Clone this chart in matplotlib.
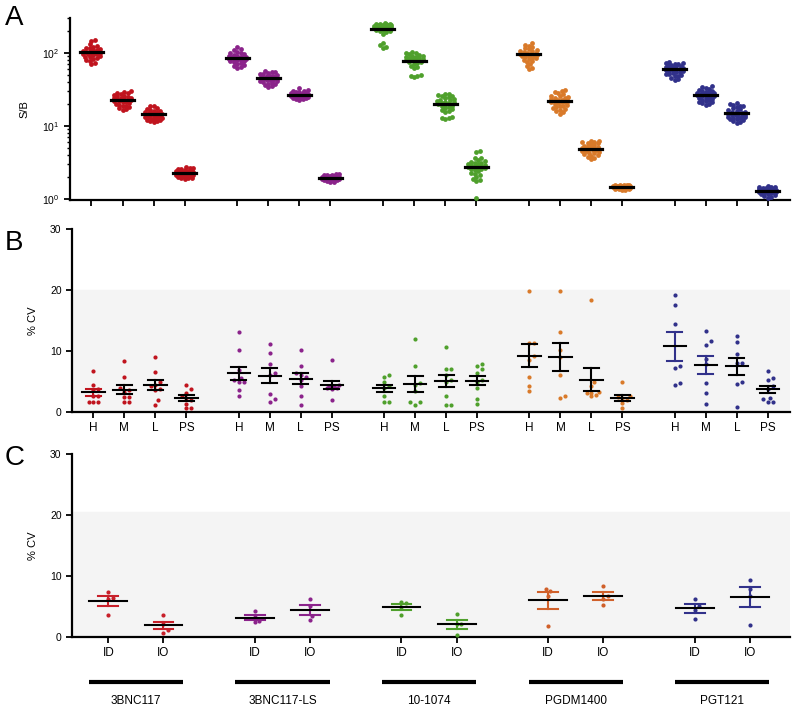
"""
S/B and %CV plots for five antibodies (panels A, B, C)
"""

import numpy as np
import matplotlib
matplotlib.use("Agg")
import matplotlib.pyplot as plt
import matplotlib.transforms as mtransforms
from matplotlib.ticker import LogLocator, LogFormatterMathtext, NullFormatter

plt.rcParams['font.family'] = ['Liberation Sans', 'DejaVu Sans']

antibodies = ["3BNC117", "3BNC117-LS", "10-1074", "PGDM1400", "PGT121"]
levels = ["H", "M", "L", "PS"]
routes = ["ID", "IO"]
colors = ["#C0141E", "#8B238B", "#4FA02C", "#D97A2A", "#31318A"]
colors_c = ["#C8202A", "#8B238B", "#4FA02C", "#D0602A", "#31318A"]

# ---- panel A: S/B values, one list per level (H, M, L, PS)
sb_3bnc117 = [
    [150, 145, 132, 126, 121, 118, 115, 112, 110, 108, 106, 105, 103, 102, 101, 100, 99, 97, 96, 95, 93, 91, 89, 87, 85, 82, 80, 77, 73, 70],
    [30, 29, 28.5, 28, 27, 26.5, 26, 25.5, 25, 24.5, 24, 23.8, 23.5, 23.2, 23, 22.8, 22.5, 22.2, 22, 21.5, 21, 20.5, 20, 19.5, 19, 18.5, 18, 17.5, 17, 16.5],
    [19, 18.5, 17.5, 17, 16.5, 16.2, 16, 15.7, 15.4, 15.2, 15, 14.8, 14.6, 14.5, 14.3, 14.1, 14, 13.8, 13.6, 13.4, 13.2, 13, 12.8, 12.6, 12.4, 12.2, 12, 11.8, 11.6, 11.4],
    [2.75, 2.7, 2.65, 2.6, 2.55, 2.5, 2.45, 2.42, 2.4, 2.38, 2.35, 2.32, 2.3, 2.28, 2.26, 2.25, 2.23, 2.2, 2.18, 2.15, 2.12, 2.1, 2.08, 2.05, 2.02, 2.0, 1.97, 1.94, 1.92, 1.9],
]
sb_3bnc117ls = [
    [120, 112, 108, 104, 100, 98, 96, 94, 92, 90, 89, 88, 87, 86, 85, 84, 83, 82, 81, 80, 79, 78, 77, 75, 73, 71, 69, 67, 65, 63],
    [56, 55, 54, 53, 52, 51, 50, 49, 48, 47.5, 47, 46.5, 46, 45.5, 45, 44.5, 44, 43.5, 43, 42.5, 42, 41.5, 41, 40, 39, 38, 37, 36, 35, 34],
    [33, 31.5, 30.5, 30, 29.5, 29, 28.5, 28.2, 28, 27.7, 27.5, 27.2, 27, 26.8, 26.6, 26.4, 26.2, 26, 25.8, 25.6, 25.4, 25.2, 25, 24.7, 24.4, 24.1, 23.8, 23.5, 23.2, 23],
    [2.2, 2.17, 2.14, 2.12, 2.1, 2.08, 2.06, 2.04, 2.02, 2.01, 2.0, 1.99, 1.98, 1.97, 1.96, 1.95, 1.94, 1.93, 1.92, 1.91, 1.9, 1.89, 1.88, 1.86, 1.84, 1.82, 1.8, 1.77, 1.73, 1.7],
]
sb_101074 = [
    [255, 252, 250, 248, 246, 244, 242, 240, 238, 235, 232, 230, 228, 225, 222, 220, 218, 215, 212, 210, 207, 204, 200, 196, 190, 182, 135, 128, 120, 117],
    [103, 100, 98, 96, 94, 92, 90, 88, 87, 86, 85, 84, 83, 82, 81, 80, 79, 78, 76, 74, 72, 70, 67, 64, 62, 50, 49, 48, 47],
    [27.5, 27, 26.5, 26, 25.5, 25, 24, 23.5, 23, 22.5, 22, 21.5, 21, 20.8, 20.5, 20, 19.5, 19, 18.5, 18, 17.5, 17, 16.5, 16, 15.5, 13.2, 13, 12.8, 12.6],
    [4.5, 4.4, 3.7, 3.6, 3.4, 3.3, 3.2, 3.15, 3.1, 3.05, 3.0, 2.95, 2.9, 2.85, 2.8, 2.75, 2.7, 2.65, 2.6, 2.55, 2.5, 2.4, 2.3, 2.2, 2.1, 2.0, 1.9, 1.8, 1.75, 1.03],
]
sb_pgdm1400 = [
    [135, 130, 125, 120, 116, 112, 110, 107, 105, 103, 101, 99, 97, 96, 95, 94, 93, 92, 90, 88, 86, 84, 82, 80, 77, 74, 70, 66, 62, 60],
    [31, 30, 29, 28, 27, 26, 25.5, 25, 24.5, 24, 23.5, 23, 22.5, 22, 21.8, 21.5, 21.2, 21, 20.5, 20, 19.5, 19, 18.5, 18, 17.5, 17, 16.5, 16, 15.3, 14.6],
    [6.3, 6.2, 6.1, 6.0, 5.9, 5.8, 5.6, 5.5, 5.4, 5.3, 5.2, 5.1, 5.0, 4.95, 4.9, 4.85, 4.8, 4.75, 4.7, 4.6, 4.5, 4.4, 4.3, 4.2, 4.1, 4.0, 3.9, 3.8, 3.7, 3.5],
    [1.58, 1.57, 1.56, 1.55, 1.54, 1.53, 1.52, 1.51, 1.5, 1.5, 1.49, 1.48, 1.48, 1.47, 1.47, 1.46, 1.46, 1.45, 1.45, 1.44, 1.43, 1.42, 1.41, 1.4, 1.39, 1.38, 1.37, 1.36, 1.34, 1.32],
]
sb_pgt121 = [
    [75, 73, 72, 71, 70, 69, 68, 67, 66, 65, 64, 63, 62, 61, 60, 59, 58, 57, 56, 55, 54, 53, 52, 51, 50, 49, 48, 46, 44, 43],
    [35, 34, 33, 32, 31, 30.5, 30, 29.5, 29, 28.5, 28, 27.5, 27, 26.8, 26.5, 26.2, 26, 25.5, 25, 24.5, 24, 23.5, 23, 22.5, 22, 21.5, 21, 20.5, 20, 19.4],
    [20.5, 20, 19.5, 19, 18.5, 18, 17.5, 17, 16.5, 16, 15.7, 15.4, 15.1, 14.8, 14.6, 14.4, 14.2, 14, 13.8, 13.6, 13.4, 13.2, 13, 12.8, 12.6, 12.4, 12.1, 11.8, 11.4, 11],
    [1.5, 1.48, 1.46, 1.44, 1.42, 1.4, 1.38, 1.37, 1.36, 1.35, 1.34, 1.33, 1.32, 1.31, 1.3, 1.29, 1.28, 1.27, 1.26, 1.25, 1.24, 1.23, 1.22, 1.2, 1.18, 1.16, 1.13, 1.1, 1.07, 1.04],
]
sb_all = [sb_3bnc117, sb_3bnc117ls, sb_101074, sb_pgdm1400, sb_pgt121]

# ---- panel B: %CV per level (H, M, L, PS)
cv_3bnc117 = [
    [6.8, 4.5, 3.8, 3.6, 2.7, 2.6, 1.6, 1.6, 1.7],
    [8.3, 5.7, 3.9, 3.6, 3.3, 2.5, 2.5, 1.7, 1.7],
    [9.0, 6.6, 5.0, 4.5, 4.2, 3.8, 3.6, 1.9, 1.2],
    [4.5, 3.8, 3.2, 2.6, 2.3, 2.0, 1.4, 0.6, 0.6],
]
cv_3bnc117ls = [
    [13.1, 10.1, 6.9, 5.6, 5.3, 5.0, 4.9, 3.6, 2.7],
    [11.2, 9.6, 7.9, 6.4, 6.0, 3.0, 2.1, 1.6],
    [10.1, 7.5, 6.4, 6.1, 5.8, 5.3, 4.3, 2.7, 1.1],
    [8.5, 4.5, 4.3, 4.2, 3.9, 3.9, 3.8, 1.9],
]
cv_101074 = [
    [6.1, 5.8, 5.0, 4.2, 3.9, 2.7, 1.7, 1.7],
    [12.0, 7.5, 4.8, 4.5, 3.4, 1.7, 1.6, 1.2],
    [10.7, 7.0, 7.0, 6.0, 5.3, 5.0, 2.7, 1.2, 1.2],
    [7.8, 7.5, 7.0, 6.4, 5.3, 4.9, 3.9, 2.1, 1.3],
]
cv_pgdm1400 = [
    [19.9, 11.3, 11.3, 9.2, 8.6, 5.7, 4.3, 3.5],
    [19.8, 13.1, 10.2, 9.0, 6.1, 2.7, 2.3],
    [18.3, 4.9, 4.2, 3.3, 3.1, 3.1, 2.8, 2.6],
    [5.0, 2.6, 2.5, 2.3, 2.0, 1.5, 0.7],
]
cv_pgt121 = [
    [19.1, 17.6, 14.5, 7.5, 7.3, 4.8, 4.5],
    [13.3, 11.6, 11.0, 8.7, 7.9, 4.8, 3.1, 1.3],
    [12.5, 11.5, 9.5, 8.0, 8.0, 5.0, 4.6, 0.8],
    [6.7, 5.6, 5.3, 4.2, 3.7, 2.3, 2.1, 1.7, 1.7],
]
cv_all = [cv_3bnc117, cv_3bnc117ls, cv_101074, cv_pgdm1400, cv_pgt121]

# ---- panel C: %CV per route (ID, IO)
route_3bnc117 = [[7.3, 6.4, 6.3, 3.6], [3.6, 2.1, 1.2, 0.7]]
route_3bnc117ls = [[4.2, 3.3, 2.6, 2.4], [6.3, 5.0, 3.5, 2.8]]
route_101074 = [[5.7, 5.5, 4.9, 3.6], [3.8, 2.2, 2.1, 0.3]]
route_pgdm1400 = [[7.9, 7.5, 6.8, 1.8], [8.4, 6.8, 6.3, 5.3]]
route_pgt121 = [[6.3, 5.0, 4.4, 3.0], [9.4, 7.9, 6.8, 1.9]]
route_all = [route_3bnc117, route_3bnc117ls, route_101074, route_pgdm1400, route_pgt121]

GROUP_STEP = 4.69
XLIM = (-0.69, 3 + 4 * GROUP_STEP + 0.71)


def swarm_x(ax, xc, vals, d, max_off):
    """x positions (data units) that spread points sideways, at most max_off px"""
    pts = ax.transData.transform(np.column_stack([np.full(len(vals), xc), vals]))
    ypx = pts[:, 1]
    offs = np.zeros(len(vals))
    placed = []
    cands = [0.0]
    j = 1
    while j * d * 0.5 <= max_off:
        cands += [j * d * 0.5, -j * d * 0.5]
        j += 1
    for k in np.argsort(ypx):
        y = ypx[k]
        best, best_dist = 0.0, -1
        for c in cands:
            dist = min([np.hypot(c - px, y - py) for px, py in placed] or [1e9])
            if dist >= d:
                best = c
                break
            if dist > best_dist:
                best, best_dist = c, dist
        placed.append((best, y))
        offs[k] = best
    inv = ax.transData.inverted()
    return inv.transform(np.column_stack([pts[:, 0] + offs, ypx]))[:, 0]


def style_axes(ax):
    for s in ["top", "right"]:
        ax.spines[s].set_visible(False)
    for s in ["left", "bottom"]:
        ax.spines[s].set_linewidth(1.6)
    ax.tick_params(axis="both", which="major", length=4, width=1.3, labelsize=7.5)
    ax.tick_params(axis="both", which="minor", length=2.2, width=1.0)
    ax.set_xlim(*XLIM)


def mean_sem(ax, x, vals, half_mean, half_cap, ecolor):
    v = np.asarray(vals, dtype=float)
    m = v.mean()
    se = v.std(ddof=1) / np.sqrt(len(v))
    ax.plot([x, x], [m - se, m + se], color=ecolor, lw=1.5, zorder=4)
    ax.plot([x - half_cap, x + half_cap], [m - se, m - se], color=ecolor, lw=1.5, zorder=4)
    ax.plot([x - half_cap, x + half_cap], [m + se, m + se], color=ecolor, lw=1.5, zorder=4)
    ax.plot([x - half_mean, x + half_mean], [m, m], color="black", lw=1.5, zorder=5)


fig = plt.figure(figsize=(7.93, 7.08), dpi=100)

# ---------------- panel A
axA = fig.add_axes([0.0883, 0.7175, 0.9077, 0.2571])
axA.set_yscale("log")
axA.set_ylim(0.97, 300)
style_axes(axA)
axA.yaxis.set_major_locator(LogLocator(base=10))
axA.yaxis.set_major_formatter(LogFormatterMathtext())
axA.yaxis.set_minor_locator(LogLocator(base=10, subs=np.arange(2, 10)))
axA.yaxis.set_minor_formatter(NullFormatter())
ticksA = []
for g, group in enumerate(sb_all):
    for i, vals in enumerate(group):
        xc = g * GROUP_STEP + i
        ticksA.append(xc)
        xs = swarm_x(axA, xc, vals, 3.4, 10)
        axA.scatter(xs, vals, s=12, color=colors[g], linewidths=0, zorder=3)
        m = np.mean(vals)
        axA.plot([xc - 0.37, xc + 0.37], [m, m], color="black", lw=2.3, zorder=5)
axA.set_xticks(ticksA)
axA.set_xticklabels([])
axA.set_ylabel("S/B", fontsize=8)
axA.yaxis.set_label_coords(-0.056, 0.5)

# ---------------- panel B
axB = fig.add_axes([0.0908, 0.418, 0.9052, 0.2586])
axB.set_ylim(0, 30)
style_axes(axB)
axB.axhspan(0, 20, color="#f4f4f4", zorder=0)
axB.set_yticks([0, 10, 20, 30])
err_colors_b = [["#C0141E", "black", "black", "black"],
                ["black"] * 4,
                ["black"] * 4,
                ["black"] * 4,
                ["#31318A", "#31318A", "black", "black"]]
ticksB, labelsB = [], []
for g, group in enumerate(cv_all):
    for i, vals in enumerate(group):
        xc = g * GROUP_STEP + i
        ticksB.append(xc)
        labelsB.append(levels[i])
        xs = swarm_x(axB, xc, vals, 4.8, 9)
        axB.scatter(xs, vals, s=9, color=colors[g], linewidths=0, zorder=3)
        mean_sem(axB, xc, vals, 0.36, 0.24, err_colors_b[g][i])
axB.set_xticks(ticksB)
axB.set_xticklabels(labelsB, fontsize=8.5)
axB.set_ylabel("% CV", fontsize=8)
axB.yaxis.set_label_coords(-0.047, 0.5)

# ---------------- panel C
axC = fig.add_axes([0.0908, 0.1003, 0.9052, 0.2585])
axC.set_ylim(0, 30)
style_axes(axC)
axC.axhspan(0, 20.5, color="#f4f4f4", zorder=0)
axC.set_yticks([0, 10, 20, 30])
ticksC, labelsC = [], []
for g, group in enumerate(route_all):
    for r, vals in enumerate(group):
        xc = g * 4.73 + 0.48 + r * 1.78
        ticksC.append(xc)
        labelsC.append(routes[r])
        xs = swarm_x(axC, xc, vals, 4.6, 8)
        axC.scatter(xs, vals, s=9, color=colors_c[g], linewidths=0, zorder=3)
        mean_sem(axC, xc, vals, 0.61, 0.32, colors_c[g])
axC.set_xticks(ticksC)
axC.set_xticklabels(labelsC, fontsize=8.5)
axC.set_ylabel("% CV", fontsize=8)
axC.yaxis.set_label_coords(-0.047, 0.5)

# group bars and names under panel C
trans = mtransforms.blended_transform_factory(axC.transData, axC.transAxes)
for g, name in enumerate(antibodies):
    xc = g * 4.73 + 0.48 + 0.89
    axC.plot([xc - 1.52, xc + 1.52], [-0.246, -0.246], color="black", lw=3,
             transform=trans, clip_on=False, solid_capstyle="butt")
    axC.text(xc, -0.35, name, transform=trans, ha="center", va="center", fontsize=8.5)

# panel letters
fig.text(0.006, 0.993, "A", fontsize=20, va="top")
fig.text(0.006, 0.675, "B", fontsize=20, va="top")
fig.text(0.006, 0.372, "C", fontsize=20, va="top")

fig.savefig("out.png", dpi=100)
